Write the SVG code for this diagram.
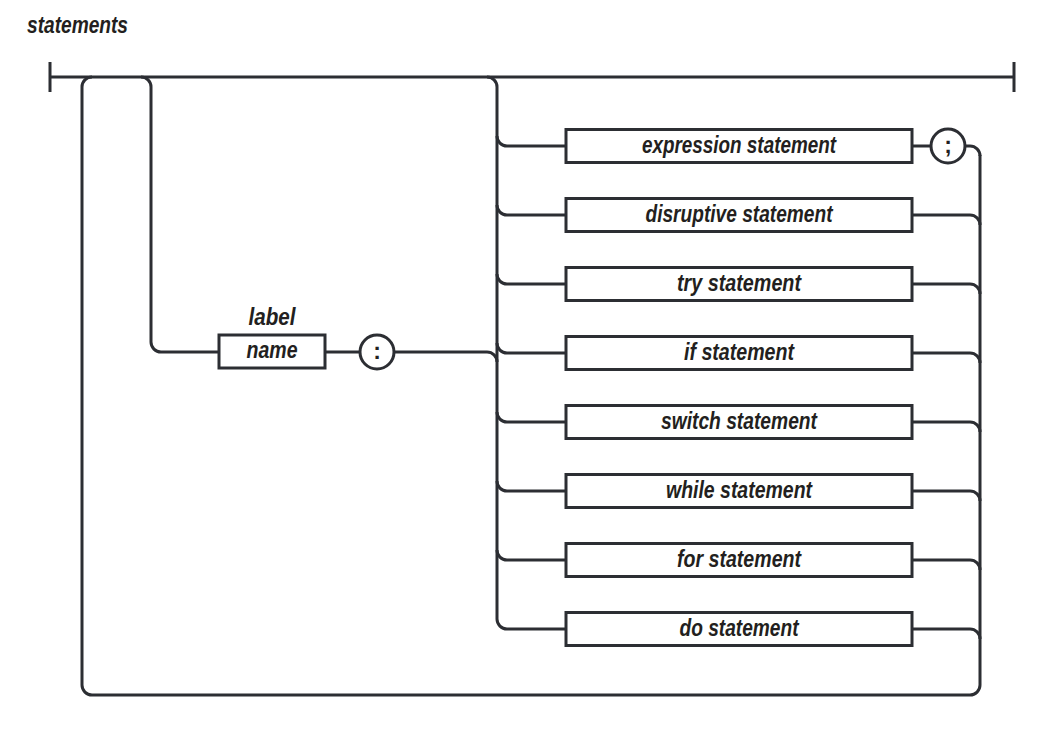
<svg xmlns="http://www.w3.org/2000/svg" width="1040" height="730" viewBox="0 0 1040 730">
<style>
.ln{fill:none;stroke:#2c2e33;stroke-width:3;stroke-linecap:butt}
.bx{fill:#fff;stroke:#2c2e33;stroke-width:3}
.t{font-family:"Liberation Sans",sans-serif;font-weight:bold;font-style:italic;font-size:23px;fill:#231f20;text-anchor:middle}
.p{font-style:normal}
</style>
<rect width="1040" height="730" fill="#fff"/>
<text x="27" y="33" class="t" style="text-anchor:start" textLength="101" lengthAdjust="spacingAndGlyphs">statements</text>
<g id="connectors">
<path class="ln" d="M50,77 H1014 M50,62 V92 M1014,62 V92"/>
<path class="ln" d="M92,77 A10,10 0 0 0 82,87 V685 A10,10 0 0 0 92,695 H970 A10,10 0 0 0 980,685 V155"/>
<path class="ln" d="M141,77 A10,10 0 0 1 151,87 V342 A10,10 0 0 0 161,352 H219"/>
<path class="ln" d="M325,352 H360"/>
<path class="ln" d="M394,352 H487 A10,10 0 0 1 497,362"/>
<path class="ln" d="M487,77 A10,10 0 0 1 497,87 V619 A10,10 0 0 0 507,629 H566"/>
<path class="ln" d="M497,136 A10,10 0 0 0 507,146 H566 M497,205 A10,10 0 0 0 507,215 H566 M497,274 A10,10 0 0 0 507,284 H566 M497,343 A10,10 0 0 0 507,353 H566 M497,412 A10,10 0 0 0 507,422 H566 M497,481 A10,10 0 0 0 507,491 H566 M497,550 A10,10 0 0 0 507,560 H566"/>
<path class="ln" d="M912,146 H931 M965,146 H970 A10,10 0 0 1 980,156"/>
<path class="ln" d="M912,215 H970 A10,10 0 0 1 980,225 M912,284 H970 A10,10 0 0 1 980,294 M912,353 H970 A10,10 0 0 1 980,363 M912,422 H970 A10,10 0 0 1 980,432 M912,491 H970 A10,10 0 0 1 980,501 M912,560 H970 A10,10 0 0 1 980,570 M912,629 H970 A10,10 0 0 1 980,639"/>
</g>
<g id="label-name">
<text x="272" y="325" class="t" textLength="47" lengthAdjust="spacingAndGlyphs">label</text>
<rect class="bx" x="219" y="335" width="106" height="33"/>
<text x="272" y="358" class="t" textLength="51" lengthAdjust="spacingAndGlyphs">name</text>
</g>
<g id="colon">
<circle class="bx" cx="377" cy="352" r="17"/>
<text x="377" y="359" class="t p">:</text>
</g>
<g id="expression-statement">
<rect class="bx" x="566" y="129.500" width="346" height="33"/>
<text x="739" y="153" class="t" textLength="194" lengthAdjust="spacingAndGlyphs">expression statement</text>
</g>
<g id="semicolon">
<circle class="bx" cx="948" cy="146" r="17"/>
<text x="948" y="153" class="t p">;</text>
</g>
<g id="disruptive-statement">
<rect class="bx" x="566" y="198.500" width="346" height="33"/>
<text x="739" y="222" class="t" textLength="187" lengthAdjust="spacingAndGlyphs">disruptive statement</text>
</g>
<g id="try-statement">
<rect class="bx" x="566" y="267.500" width="346" height="33"/>
<text x="739" y="291" class="t" textLength="124" lengthAdjust="spacingAndGlyphs">try statement</text>
</g>
<g id="if-statement">
<rect class="bx" x="566" y="336.500" width="346" height="33"/>
<text x="739" y="360" class="t" textLength="110" lengthAdjust="spacingAndGlyphs">if statement</text>
</g>
<g id="switch-statement">
<rect class="bx" x="566" y="405.500" width="346" height="33"/>
<text x="739" y="429" class="t" textLength="156" lengthAdjust="spacingAndGlyphs">switch statement</text>
</g>
<g id="while-statement">
<rect class="bx" x="566" y="474.500" width="346" height="33"/>
<text x="739" y="498" class="t" textLength="146" lengthAdjust="spacingAndGlyphs">while statement</text>
</g>
<g id="for-statement">
<rect class="bx" x="566" y="543.500" width="346" height="33"/>
<text x="739" y="567" class="t" textLength="124" lengthAdjust="spacingAndGlyphs">for statement</text>
</g>
<g id="do-statement">
<rect class="bx" x="566" y="612.500" width="346" height="33"/>
<text x="739" y="636" class="t" textLength="119" lengthAdjust="spacingAndGlyphs">do statement</text>
</g>
</svg>
